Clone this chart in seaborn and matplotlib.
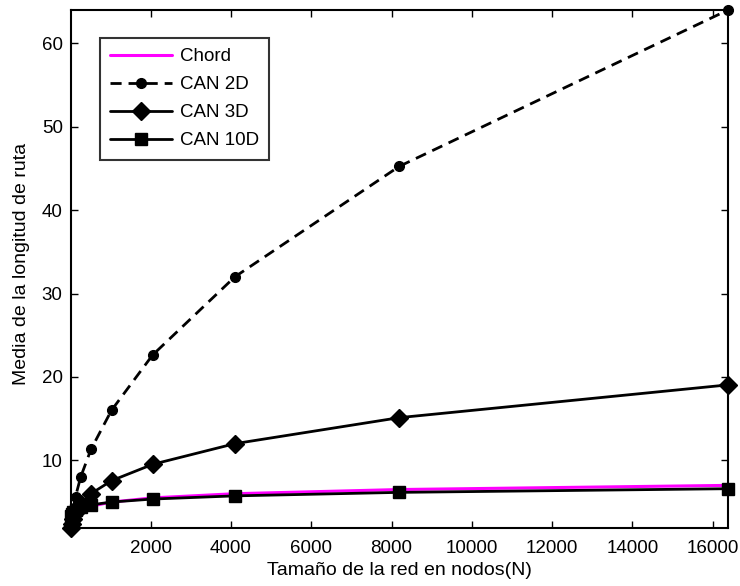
import matplotlib
matplotlib.use("Agg")
import matplotlib.pyplot as plt
import seaborn as sns
import pandas as pd

nodes = [16, 32, 64, 128, 256, 512, 1024, 2048, 4096, 8192, 16384]
chord = [2.0, 2.5, 3.0, 3.5, 4.0, 4.5, 5.0, 5.5, 6.0, 6.5, 7.0]
can2d = [2.0, 2.83, 4.0, 5.66, 8.0, 11.31, 16.0, 22.63, 32.0, 45.25, 64.0]
can3d = [1.89, 2.38, 3.0, 3.78, 4.76, 6.0, 7.56, 9.52, 12.0, 15.12, 19.05]
can10d = [3.3, 3.54, 3.79, 4.06, 4.35, 4.66, 5.0, 5.36, 5.74, 6.16, 6.6]

xlabel = "Tamaño de la red en nodos(N)"
ylabel = "Media de la longitud de ruta"
xticks = [2000, 4000, 6000, 8000, 10000, 12000, 14000, 16000]
yticks = [10, 20, 30, 40, 50, 60]

sns.set_theme(style="white")
plt.rcParams['font.family'] = ['Liberation Sans', 'DejaVu Sans']
plt.rcParams['text.color'] = 'black'
plt.rcParams['axes.labelcolor'] = 'black'

fig = plt.figure(figsize=(7.4, 5.86), dpi=100)
ax = fig.add_axes([0.096, 0.099, 0.888, 0.884])

mk = dict(markeredgecolor="black", markerfacecolor="black", markeredgewidth=1)
styles = [
    ("Chord", chord, dict(color="#ff00ff", linewidth=2.2, marker=None)),
    ("CAN 2D", can2d, dict(color="black", linewidth=2, linestyle=(0, (4, 2.5)), marker="o", markersize=7, **mk)),
    ("CAN 3D", can3d, dict(color="black", linewidth=2, marker="D", markersize=9, **mk)),
    ("CAN 10D", can10d, dict(color="black", linewidth=2, marker="s", markersize=8, **mk)),
]
for name, vals, kw in styles:
    df = pd.DataFrame({"N": nodes, "v": vals})
    sns.lineplot(data=df, x="N", y="v", ax=ax, label=name, clip_on=False, **kw)

ax.set_xlim(min(nodes), max(nodes))
ax.set_ylim(min(can3d), max(can2d))
ax.set_xticks(xticks)
ax.set_yticks(yticks)
ax.set_xlabel(xlabel, fontsize=14, color="black")
ax.set_ylabel(ylabel, fontsize=14, color="black")
ax.xaxis.set_label_coords(0.5, -0.066)
ax.yaxis.set_label_coords(-0.062, 0.51)
ax.tick_params(direction="in", length=5, width=1, labelsize=13.5, colors="black",
               top=True, right=True, bottom=True, left=True)
ax.tick_params(axis="x", pad=9)
ax.tick_params(axis="y", pad=6)
for s in ax.spines.values():
    s.set_color("black")
    s.set_linewidth(1.5)

leg = ax.legend(loc="upper left", bbox_to_anchor=(0.044, 0.946), fontsize=13.5,
                frameon=True, fancybox=False, handlelength=3.3, borderpad=0.55,
                labelspacing=0.58, handletextpad=0.4, borderaxespad=0)
leg.get_frame().set_edgecolor("black")
leg.get_frame().set_linewidth(1.5)
for t in leg.get_texts():
    t.set_color("black")

fig.savefig("out.png", dpi=100)
